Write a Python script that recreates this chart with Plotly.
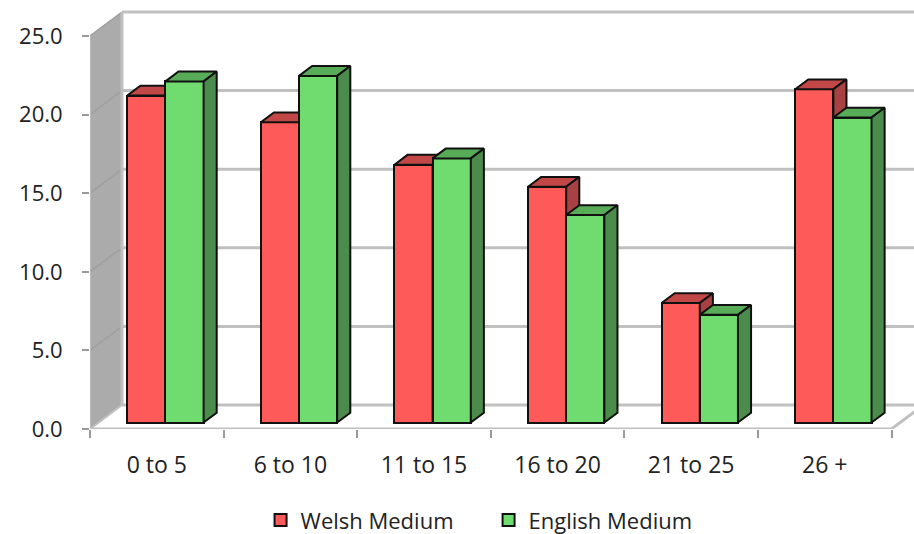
import plotly.graph_objects as go

categories = ["0 to 5", "6 to 10", "11 to 15", "16 to 20", "21 to 25", "26 +"]
welsh = [20.8, 19.1, 16.4, 15.0, 7.6, 21.2]
english = [21.7, 22.05, 16.8, 13.2, 6.85, 19.4]
y_ticks = [0, 5, 10, 15, 20, 25]

# pixel scales of the oblique projection
W, H = 914, 534
L, R, T, B = 89.5, 23, 5, 105
PX_X = (891.5 - 89.5) / 6
PX_Y = 393 / 25
DX = 32 / PX_X          # full floor depth in x units
DY = 24 / PX_Y          # full floor depth in y units
D0, D1 = 0.27, 0.68     # depth of bar front and back faces
BAR_W = 38.2 / PX_X

X_MAX = (W - L) / PX_X
Y_MAX = (H - B - T) / PX_Y


def P(x, y, d):
    return x + d * DX, y + d * DY


def poly(points, color, xa, ya, line="#101010", lw=2):
    xs, ys = zip(*(P(*p) for p in points + [points[0]]))
    return go.Scatter(x=xs, y=ys, mode="lines", fill="toself", fillcolor=color,
                      line=dict(color=line, width=lw), hoverinfo="skip",
                      showlegend=False, xaxis=xa, yaxis=ya, cliponaxis=False)


def seg(points, color, width, xa="x", ya="y"):
    xs, ys = zip(*(P(*p) for p in points))
    return go.Scatter(x=xs, y=ys, mode="lines", line=dict(color=color, width=width),
                      hoverinfo="skip", showlegend=False, xaxis=xa, yaxis=ya, cliponaxis=False)


fig = go.Figure()
GRID = "#c0c0c0"
n = len(categories)

# walls, floor edges and grid
fig.add_trace(poly([(0, 0, 0), (0, 25, 0), (0, 25, 1), (0, 0, 1)], "#ababab", "x", "y", line="#ababab", lw=1))
for v in y_ticks:
    fig.add_trace(seg([(0, v, 1), (n + 1, v, 1)], GRID, 3))
    if v:
        fig.add_trace(seg([(0, v, 0), (0, v, 1)], "#a0a0a0", 1.5))
fig.add_trace(seg([(0, 0, 1), (0, 25, 1)], GRID, 3))
fig.add_trace(seg([(0, 0, 0), (0, 0, 1)], GRID, 2))
fig.add_trace(seg([(0, 0, 0), (n, 0, 0), (n, 0, 1)], GRID, 3))
fig.add_trace(seg([(0, 0, 0), (0, 25, 0)], GRID, 1.5))


def series(vals, name, shift, front, top, side, xa, ya):
    base = D0 * DY
    lefts = [i + 0.5 + shift * BAR_W for i in range(n)]
    fig.add_trace(go.Bar(
        x=[a + D0 * DX + BAR_W / 2 for a in lefts], y=vals, base=base, width=BAR_W, name=name,
        marker=dict(color=front, line=dict(color="#101010", width=2)),
        xaxis=xa, yaxis=ya, hoverinfo="skip"))
    for a, v in zip(lefts, vals):
        fig.add_trace(poly([(a, v, D0), (a + BAR_W, v, D0), (a + BAR_W, v, D1), (a, v, D1)], top, xa, ya))
        fig.add_trace(poly([(a + BAR_W, 0, D0), (a + BAR_W, v, D0), (a + BAR_W, v, D1), (a + BAR_W, 0, D1)], side, xa, ya))


series(welsh, "Welsh Medium", -1, "#ff5a5a", "#c24848", "#a84242", "x2", "y2")
series(english, "English Medium", 0, "#70dc70", "#58ac58", "#4b8b4b", "x3", "y3")

FONT = "Open Sans"
xa = dict(range=[0, X_MAX], showgrid=False, zeroline=False, showline=False,
          tickmode="array", tickvals=[i + 0.5 for i in range(n)], ticktext=categories,
          ticks="", ticklabelstandoff=20,
          minor=dict(tickmode="array", tickvals=list(range(n + 1)), ticks="outside",
                     ticklen=8, tickwidth=2, tickcolor="#9a9a9a"),
          tickfont=dict(family=FONT, size=23, color="#222"))
ya = dict(range=[0, Y_MAX], showgrid=False, zeroline=False, showline=False,
          tickmode="array", tickvals=y_ticks, ticktext=[f"{v:.1f}" for v in y_ticks],
          ticks="outside", ticklen=7, tickwidth=2, tickcolor="#9a9a9a", ticklabelstandoff=15,
          tickfont=dict(family=FONT, size=22, color="#222"))
hidden = dict(visible=False, fixedrange=True)

fig.update_layout(
    width=W, height=H, autosize=False,
    margin=dict(l=L, r=0, t=T, b=B, autoexpand=False),
    paper_bgcolor="white", plot_bgcolor="white",
    barmode="overlay", bargap=0,
    xaxis=xa, yaxis=ya,
    xaxis2=dict(range=[0, X_MAX], overlaying="x", **hidden),
    yaxis2=dict(range=[0, Y_MAX], overlaying="y", **hidden),
    xaxis3=dict(range=[0, X_MAX], overlaying="x", **hidden),
    yaxis3=dict(range=[0, Y_MAX], overlaying="y", **hidden),
    legend=dict(orientation="h", x=0.207, xanchor="left", y=-0.215, yanchor="middle",
                font=dict(family=FONT, size=22, color="#222"), itemsizing="constant",
                entrywidth=183, entrywidthmode="pixels"),
)
fig.write_html("out.html", config={"displayModeBar": False},
               post_script="document.body.style.margin='0';document.body.style.overflow='hidden';")
